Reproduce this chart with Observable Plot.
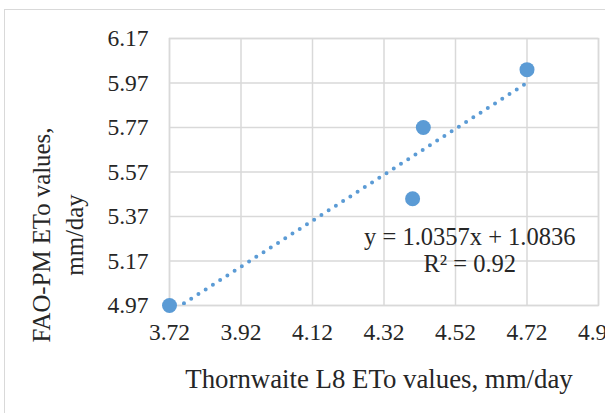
<!DOCTYPE html>
<html>
<head>
<meta charset="utf-8">
<script src="https://cdn.jsdelivr.net/npm/d3@7"></script>
<script src="https://cdn.jsdelivr.net/npm/@observablehq/plot@0.6"></script>
<style>
  html, body { margin: 0; padding: 0; background: #ffffff; overflow: hidden; }
  #chart { position: relative; width: 605px; height: 413px; }
  #frame { position: absolute; left: 4px; top: 9px; width: 620px; height: 420px; border: 1px solid #d9d9d9; box-sizing: border-box; pointer-events: none; }
</style>
</head>
<body>
<div id="chart"><div id="frame"></div></div>
<script>
// Data
const thornwaiteL8 = [3.72, 4.40, 4.43, 4.72];
const faoPM = [4.97, 5.45, 5.77, 6.03];
const xTicks = [3.72, 3.92, 4.12, 4.32, 4.52, 4.72, 4.92];
const yTicks = [4.97, 5.17, 5.37, 5.57, 5.77, 5.97, 6.17];
const equationLines = ["y = 1.0357x + 1.0836", "R² = 0.92"];
const xTitle = "Thornwaite L8 ETo values, mm/day";
const yTitle = ["FAO-PM ETo values,", "mm/day"];

const points = thornwaiteL8.map((x, i) => ({x, y: faoPM[i]}));
const blue = "#5b9bd5";
const grid = "#d9d9d9";
const ink = "#262626";

const chart = Plot.plot({
  width: 605,
  height: 413,
  marginLeft: 169,
  marginRight: 7,
  marginTop: 38,
  marginBottom: 108,
  style: {fontFamily: "Liberation Serif", color: ink, background: "transparent", overflow: "visible"},
  x: {domain: [3.72, 4.92]},
  y: {domain: [4.97, 6.17]},
  marks: [
    Plot.gridX(xTicks, {stroke: grid, strokeOpacity: 1, strokeWidth: 1.5}),
    Plot.gridY(yTicks, {stroke: grid, strokeOpacity: 1, strokeWidth: 1.5}),
    Plot.frame({stroke: grid, strokeWidth: 1.5}),
    Plot.axisX(xTicks, {tickSize: 0, tickPadding: 18, fontSize: 23.5, tickFormat: d3.format(".2f"), label: null}),
    Plot.axisY(yTicks, {tickSize: 0, tickPadding: 21, fontSize: 23.5, tickFormat: d3.format(".2f"), label: null}),
    Plot.linearRegressionY(points, {x: "x", y: "y", ci: 0, stroke: blue, strokeWidth: 4, strokeDasharray: "0,8.6", strokeLinecap: "round", clip: true}),
    Plot.dot(points, {x: "x", y: "y", r: 7.5, fill: blue, stroke: "none"}),
    Plot.text([equationLines.join("\n")], {x: 4.56, y: 5.222, text: d => d, fontSize: 24.5, lineHeight: 1.1, fill: ink, textAnchor: "middle"}),
    Plot.text([xTitle], {frameAnchor: "bottom", dx: -5, dy: 82, text: d => d, fontSize: 26.8, fill: ink}),
    Plot.text([yTitle.join("\n")], {frameAnchor: "left", textAnchor: "middle", dx: -114, dy: 63, rotate: -90, text: d => d, fontSize: 24.8, lineHeight: 1.33, fill: ink})
  ]
});
document.getElementById("chart").appendChild(chart);
chart.style.position = "absolute";
chart.style.left = "0px";
chart.style.top = "0px";
</script>
</body>
</html>
